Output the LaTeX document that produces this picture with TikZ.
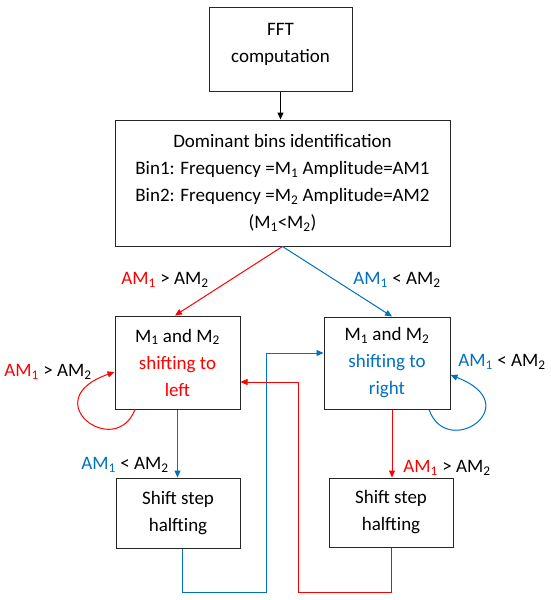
\documentclass[tikz,border=0pt]{standalone}
\usepackage{fontspec}
\setmainfont{Carlito}
\usepackage{xcolor}
\usepackage{tikz}
\usetikzlibrary{
    arrows.meta,
    positioning,
    calc
}
\definecolor{shiftred}{RGB}{255,0,0}
\definecolor{shiftblue}{RGB}{0,112,192}
\tikzset{
    stepbox/.style={
        draw=black!85,
        line width=1pt,
        align=center,
        inner sep=0pt,
        font=\fontsize{19}{27}\selectfont
    }
}
\tikzset{
    cond/.style={
        inner sep=0pt,
        font=\fontsize{19}{27}\selectfont
    }
}
\tikzset{
    flow/.style={
        draw=black,
        line width=1pt,
        -{Triangle[length=7pt,width=6pt]}
    }
}
\tikzset{
    redflow/.style={
        flow,
        draw=shiftred,
        fill=none
    }
}
\tikzset{
    blueflow/.style={
        flow,
        draw=shiftblue,
        fill=none
    }
}
\newcommand{\amGreater}{\textcolor{shiftred}{AM\textsubscript{1}} > AM\textsubscript{2}}
\newcommand{\amLess}{\textcolor{shiftblue}{AM\textsubscript{1}} < AM\textsubscript{2}}

\begin{document}
\begin{tikzpicture}[
    x=1pt,
    y=-1pt
]
\useasboundingbox (0,0) rectangle (550,600);

% ------------------------------------------------------------
% Boxes
% ------------------------------------------------------------

\node[stepbox, minimum width=143pt, minimum height=84pt, text depth=12pt] (fft) at (280.5,49)
    {FFT\\computation};
\node[stepbox, minimum width=335pt, minimum height=126pt] (bins) at (282.5,183)
    {Dominant bins identification\\Bin1: Frequency =M\textsubscript{1} Amplitude=AM1\\Bin2: Frequency =M\textsubscript{2} Amplitude=AM2\\(M\textsubscript{1}<M\textsubscript{2})};
\node[stepbox, minimum width=125pt, minimum height=93pt] (left) at (177.5,362.5)
    {M\textsubscript{1} and M\textsubscript{2}\\\textcolor{shiftred}{shifting to}\\\textcolor{shiftred}{left}};
\node[stepbox, minimum width=126pt, minimum height=92pt] (right) at (387,363)
    {M\textsubscript{1} and M\textsubscript{2}\\\textcolor{shiftblue}{shifting to}\\\textcolor{shiftblue}{right}};
\node[stepbox, minimum width=124pt, minimum height=70pt] (lhalf) at (178,513) {Shift step\\halfting};
\node[stepbox, minimum width=124pt, minimum height=69pt] (rhalf) at (391,512.5) {Shift step\\halfting};

% ------------------------------------------------------------
% Main flow
% ------------------------------------------------------------

\draw[flow] (fft.south) -- (fft.south |- bins.north);
\draw[redflow] (bins.south) -- ([xshift=-2.5pt]left.north);
\draw[blueflow] (bins.south) -- ([xshift=5pt]right.north);
\node[cond] (gtA) at (165,280) {\amGreater};
\node[cond] (ltA) at (397,280) {\amLess};

\draw[blueflow] (left.south) -- (left.south |- lhalf.north);
\node[cond] (ltB) at (125,465) {\amLess};
\draw[redflow] ([xshift=5pt]right.south) -- ([xshift=5pt]right.south |- rhalf.north);
\node[cond] (gtB) at (447,468) {\amGreater};

% ------------------------------------------------------------
% Self loops
% ------------------------------------------------------------

\draw[redflow] ([xshift=-42.5pt]left.south) .. controls +(-20,51) and +(-80,28) .. ([yshift=-9.5pt]left.west);
\node[cond] (gtC) at (48,372) {\amGreater};
\draw[blueflow] ([xshift=42pt]right.south) .. controls +(18,51) and +(78,30) .. ([yshift=-12pt]right.east);
\node[cond] (ltC) at (502,362) {\amLess};

% ------------------------------------------------------------
% Feedback from halving
% ------------------------------------------------------------

\draw[blueflow, line width=0.8pt] ([xshift=4pt]lhalf.south) -- ++(0,44)
    -| ([xshift=-57pt,yshift=10pt]right.west) -- ([yshift=10pt]right.west);
\draw[redflow, line width=0.8pt] (rhalf.south) -- ++(0,45)
    -| ([xshift=58pt,yshift=-19.5pt]left.east) -- ([yshift=-19.5pt]left.east);

\end{tikzpicture}
\end{document}
